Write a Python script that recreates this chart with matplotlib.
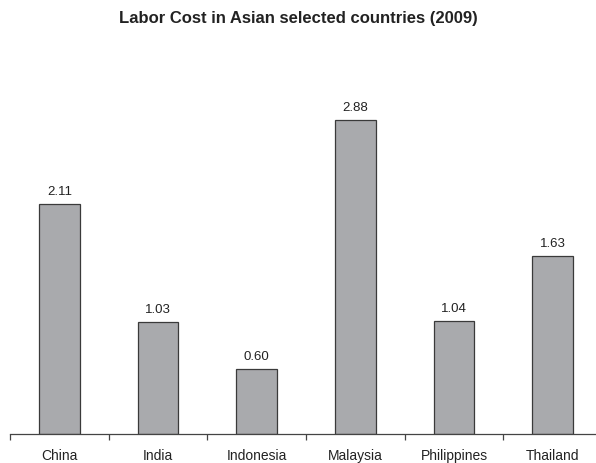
import matplotlib.pyplot as plt

countries = ['China', 'India', 'Indonesia', 'Malaysia', 'Philippines', 'Thailand']
labor_cost = [2.11, 1.03, 0.60, 2.88, 1.04, 1.63]

plt.rcParams['font.family'] = ['Liberation Sans', 'DejaVu Sans']

fig = plt.figure(figsize=(5.96, 4.64), dpi=100)
ax = fig.add_axes([10 / 596, 29 / 464, 592 / 596, 381.5 / 464])

x = list(range(len(countries)))
bars = ax.bar(x, labor_cost, width=0.41, color='#a9aaad', edgecolor='#3a3a3a', linewidth=0.9)
for xi, v in zip(x, labor_cost):
    ax.annotate(f'{v:.2f}', (xi, v), xytext=(0, 5), textcoords='offset points',
                ha='center', va='bottom', fontsize=9.5, color='#222222')

ax.set_xlim(-0.5, len(countries) - 0.5)
ax.set_ylim(0, 3.5)
for s in ['top', 'right', 'left']:
    ax.spines[s].set_visible(False)
ax.spines['bottom'].set_color('#444444')
ax.spines['bottom'].set_linewidth(0.9)
ax.set_yticks([])

ax.set_xticks([i - 0.5 for i in range(len(countries) + 1)])
ax.set_xticklabels([])
ax.tick_params(axis='x', which='major', direction='out', length=4.5, width=0.9, color='#444444')
ax.set_xticks(x, minor=True)
ax.set_xticklabels(countries, minor=True, fontsize=10, color='#222222')
ax.tick_params(axis='x', which='minor', length=0, pad=10)

fig.text(0.5, 1 - 19 / 464, 'Labor Cost in Asian selected countries (2009)',
         ha='center', va='center', fontsize=12, fontweight='bold', color='#222222')

fig.savefig('out.png', dpi=100)
